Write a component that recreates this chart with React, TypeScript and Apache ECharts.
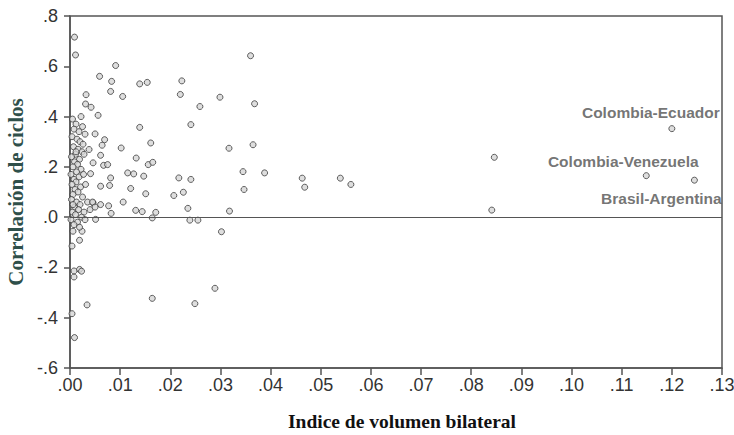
import React, { useEffect, useRef } from "react";
import * as echarts from "echarts";

const xTicks = { min: 0, max: 0.13, interval: 0.01 };
const yTicks = { min: -0.6, max: 0.8, interval: 0.2 };

// Pares dispersos (índice de volumen bilateral, correlación de ciclos)
const scatteredPairs: number[][] = [
  [0.0360, 0.642], [0.0223, 0.542], [0.0220, 0.488], [0.0299, 0.477], [0.0259, 0.440],
  [0.0368, 0.451], [0.0241, 0.368], [0.0317, 0.274], [0.0365, 0.288], [0.0345, 0.181],
  [0.0388, 0.176], [0.0463, 0.155], [0.0468, 0.119], [0.0539, 0.155], [0.0560, 0.130],
  [0.0241, 0.150], [0.0217, 0.156], [0.0226, 0.099], [0.0207, 0.086], [0.0347, 0.110],
  [0.0235, 0.035], [0.0318, 0.024], [0.0239, -0.012], [0.0255, -0.012], [0.0302, -0.058],
  [0.0289, -0.283], [0.0249, -0.344], [0.0846, 0.238], [0.0841, 0.028],
  [0.0009, 0.716], [0.0011, 0.645], [0.0059, 0.560], [0.0091, 0.603], [0.0083, 0.540],
  [0.0139, 0.530], [0.0154, 0.536], [0.0081, 0.500], [0.0105, 0.480], [0.0032, 0.487],
  [0.0031, 0.450], [0.0042, 0.437], [0.0056, 0.405], [0.0139, 0.357], [0.0050, 0.331],
  [0.0102, 0.275], [0.0069, 0.308], [0.0064, 0.286], [0.0161, 0.295], [0.0132, 0.235],
  [0.0156, 0.209], [0.0165, 0.218], [0.0061, 0.246], [0.0038, 0.269], [0.0046, 0.216],
  [0.0067, 0.206], [0.0075, 0.209], [0.0115, 0.176], [0.0127, 0.172], [0.0147, 0.163],
  [0.0041, 0.173], [0.0081, 0.156], [0.0061, 0.123], [0.0079, 0.126], [0.0121, 0.114],
  [0.0151, 0.093], [0.0106, 0.060], [0.0046, 0.057], [0.0061, 0.050], [0.0077, 0.045],
  [0.0131, 0.027], [0.0144, 0.022], [0.0171, 0.019], [0.0082, 0.015], [0.0051, -0.009],
  [0.0164, -0.003], [0.0019, -0.208], [0.0023, -0.215], [0.0034, -0.349], [0.0164, -0.323],
  [0.0009, -0.479], [0.0004, -0.384], [0.0008, -0.238], [0.0008, -0.214], [0.0019, -0.092],
  [0.0024, -0.056], [0.0004, -0.115], [0.0006, -0.056],
];

// Nube densa cerca de cero
const clusterPairs: number[][] = [
  [0.0005, 0.39], [0.0012, 0.37], [0.0022, 0.40], [0.0008, 0.35], [0.0018, 0.34],
  [0.0025, 0.36], [0.0004, 0.32], [0.0014, 0.31], [0.0020, 0.30], [0.0030, 0.33],
  [0.0007, 0.28], [0.0016, 0.27], [0.0024, 0.26], [0.0011, 0.25], [0.0003, 0.24],
  [0.0019, 0.23], [0.0028, 0.25], [0.0009, 0.22], [0.0015, 0.21], [0.0006, 0.20],
  [0.0022, 0.19], [0.0013, 0.18], [0.0002, 0.17], [0.0018, 0.16], [0.0027, 0.17],
  [0.0008, 0.15], [0.0012, 0.14], [0.0004, 0.13], [0.0021, 0.12], [0.0031, 0.13],
  [0.0010, 0.11], [0.0016, 0.10], [0.0006, 0.09], [0.0025, 0.08], [0.0003, 0.07],
  [0.0013, 0.06], [0.0020, 0.05], [0.0035, 0.06], [0.0009, 0.04], [0.0017, 0.03],
  [0.0005, 0.02], [0.0028, 0.02], [0.0011, 0.01], [0.0023, 0.00], [0.0002, -0.01],
  [0.0015, -0.02], [0.0030, -0.01], [0.0008, -0.03], [0.0019, -0.04], [0.0012, 0.26],
  [0.0026, 0.29], [0.0006, 0.05], [0.0040, 0.03], [0.0045, 0.06], [0.0050, 0.04],
];

const labeledNames = ["Colombia-Ecuador", "Colombia-Venezuela", "Brasil-Argentina"];
const labeledPairs: number[][] = [[0.1200, 0.352], [0.1149, 0.165], [0.1245, 0.147]];
const labelOffsets: number[][] = [[-21, -16], [-23, -14], [-33, 18]];

const fmtY = (v: number) => v.toFixed(1).replace(/^(-?)0\./, "$1.");
const fmtX = (v: number) => v.toFixed(2).replace(/^(-?)0\./, "$1.");

export default function App() {
  const ref = useRef<HTMLDivElement>(null);
  useEffect(() => {
    if (!ref.current) return;
    const chart = echarts.init(ref.current, undefined, { renderer: "svg" });
    const sym = {
      symbol: "circle",
      symbolSize: 6,
      itemStyle: { color: "#d6d6d6", borderColor: "#3a3a3a", borderWidth: 1 },
    };
    chart.setOption({
      animation: false,
      backgroundColor: "#ffffff",
      grid: {
        left: 70, right: 12, top: 16, bottom: 67,
        containLabel: false, outerBoundsMode: "none",
        show: true, borderColor: "#555", borderWidth: 1.5, backgroundColor: "transparent",
      },
      xAxis: {
        type: "value", ...xTicks,
        name: "Indice de volumen bilateral",
        nameLocation: "middle", nameGap: 43,
        nameTextStyle: { fontFamily: "Liberation Serif", fontWeight: "bold", fontSize: 19.5, color: "#111", padding: [0, 0, 0, 12] },
        axisLine: { show: true, onZero: false, lineStyle: { color: "#555", width: 1.5 } },
        axisTick: { show: true, length: 7, lineStyle: { color: "#555", width: 1.5 } },
        axisLabel: { formatter: fmtX, fontFamily: "Liberation Sans", fontSize: 18, color: "#333", margin: 8 },
        splitLine: { show: false },
      },
      yAxis: {
        type: "value", ...yTicks,
        name: "Correlación de ciclos",
        nameLocation: "middle", nameGap: 42, nameRotate: 90,
        nameTextStyle: { fontFamily: "Liberation Serif", fontWeight: "bold", fontSize: 21, color: "#2f4f4a" },
        axisLine: { show: true, onZero: false, lineStyle: { color: "#555", width: 1.5 } },
        axisTick: { show: true, length: 6, lineStyle: { color: "#555", width: 1.5 } },
        axisLabel: { formatter: fmtY, fontFamily: "Liberation Sans", fontSize: 18, color: "#333", margin: 12 },
        splitLine: { show: false },
      },
      series: [
        {
          type: "scatter", ...sym, data: scatteredPairs,
          markLine: {
            silent: true, symbol: "none", label: { show: false },
            lineStyle: { color: "#555", width: 1.2, type: "solid" },
            data: [{ yAxis: 0 }],
          },
        },
        { type: "scatter", ...sym, data: clusterPairs },
        {
          type: "scatter", ...sym,
          data: labeledPairs.map((p, i) => ({
            value: p,
            name: labeledNames[i],
            label: {
              show: true, position: "inside", offset: labelOffsets[i],
              formatter: labeledNames[i],
              fontFamily: "Liberation Sans", fontSize: 15.5, fontWeight: "bold", color: "#505050",
            },
          })),
        },
      ],
    });
    return () => chart.dispose();
  }, []);
  return <div ref={ref} style={{ width: 734, height: 435, position: "absolute", left: 0, top: 0 }} />;
}
